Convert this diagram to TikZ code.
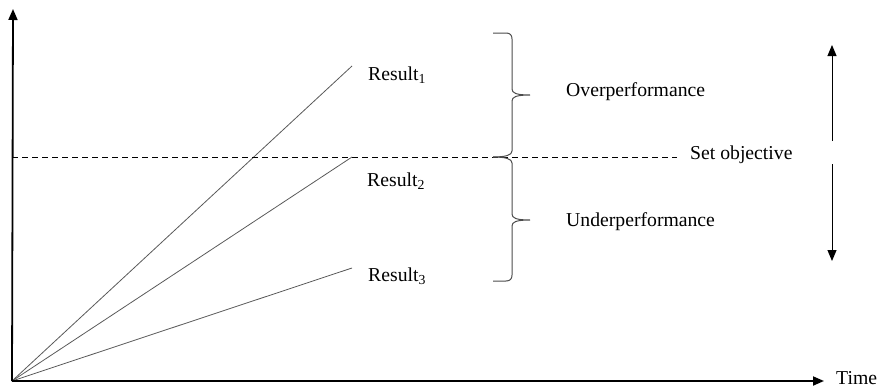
\documentclass[tikz,border=0pt]{standalone}
\usepackage{fontspec}
\setmainfont{Liberation Serif}
\usetikzlibrary{arrows.meta}
\begin{document}
\begin{tikzpicture}[x=1pt,y=-1pt,
  axis/.style={line width=1.8pt,-{Triangle[length=11pt,width=9pt]}},
  resline/.style={line width=0.8pt,draw=black!65},
  objline/.style={line width=1pt,dash pattern=on 6pt off 4pt},
  lbl/.style={inner sep=0pt,anchor=base west,font=\fontsize{19.7}{24}\selectfont},
  bracestyle/.style={draw=black!70,line width=1pt,line join=miter},
  dirarrow/.style={line width=1pt,-{Triangle[length=11pt,width=9pt]}}]
\useasboundingbox (0,0) rectangle (883,388);
\coordinate (O) at (12,381);
\coordinate (Ytip) at (13,9);
\coordinate (Xtip) at (824,381);
\coordinate (R1) at (352,66);
\coordinate (R2) at (352,157);
\coordinate (R3) at (352,268);
\coordinate (D0) at (12,157);
\coordinate (D1) at (677,157);
\coordinate (U0) at (832,141);
\coordinate (U1) at (832,45);
\coordinate (L0) at (832,164);
\coordinate (L1) at (832,261);
\draw[resline] (O) -- (R1);
\draw[resline] (O) -- (R2);
\draw[resline] (O) -- (R3);
\draw[objline] (D0) -- (D1);
\draw[axis] (O) -- (Ytip);
\draw[axis] (O) -- (Xtip);
% upper brace
\draw[bracestyle] (493,33) -- (506,33) .. controls (510,33) and (512,35) .. (512,39)
  -- (512,89) .. controls (512,93) and (516,95) .. (530,95)
  .. controls (516,95) and (512,97) .. (512,101)
  -- (512,151) .. controls (512,155) and (506,157) .. (493,157);
% lower brace
\draw[bracestyle] (493,157) .. controls (506,157) and (512,159) .. (512,163)
  -- (512,214) .. controls (512,218) and (516,220) .. (530,220)
  .. controls (516,220) and (512,222) .. (512,226)
  -- (512,275) .. controls (512,279) and (510,281) .. (506,281) -- (493,281);
\draw[dirarrow] (U0) -- (U1);
\draw[dirarrow] (L0) -- (L1);
\node[lbl] (t1) at (368,80) {Result\textsubscript{1}};
\node[lbl] (t2) at (367,186) {Result\textsubscript{2}};
\node[lbl] (t3) at (368,281) {Result\textsubscript{3}};
\node[lbl] (over) at (566,96) {Overperformance};
\node[lbl] (under) at (566,226) {Underperformance};
\node[lbl] (obj) at (690,159) {Set objective};
\node[lbl] (time) at (836,384) {Time};
\end{tikzpicture}
\end{document}
